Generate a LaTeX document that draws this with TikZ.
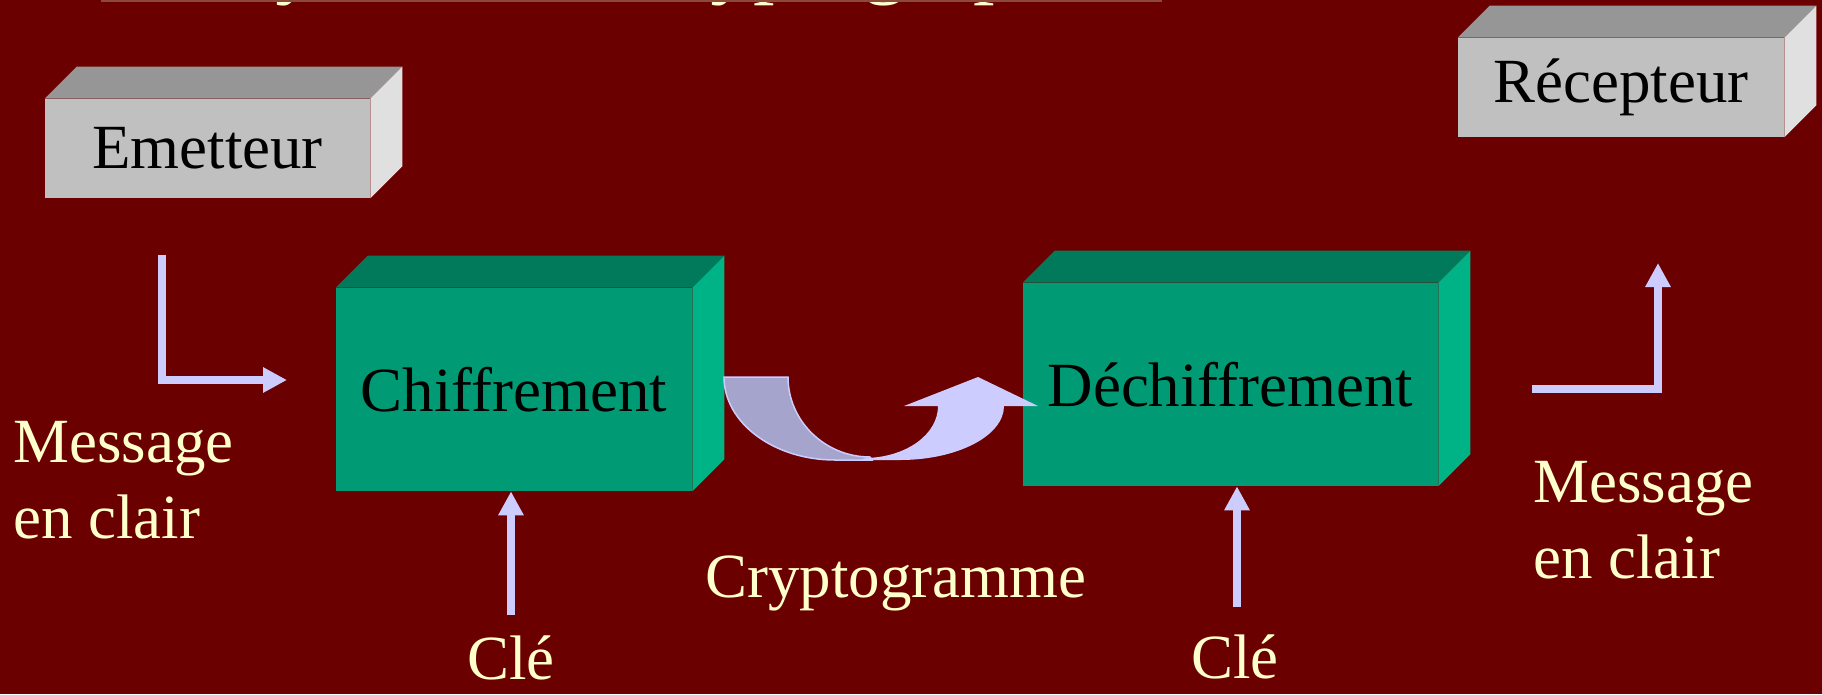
\documentclass[tikz,border=0pt]{standalone}
\usepackage{fontspec}
\setmainfont{Liberation Serif}
\usetikzlibrary{arrows.meta}

\definecolor{slidebg}{HTML}{6B0000}
\definecolor{greyfront}{HTML}{C0C0C0}
\definecolor{greytop}{HTML}{969696}
\definecolor{greyside}{HTML}{E0E0E0}
\definecolor{greenfront}{HTML}{009B74}
\definecolor{greentop}{HTML}{007A5A}
\definecolor{greenside}{HTML}{00B386}
\definecolor{lilac}{HTML}{CCCCFF}
\definecolor{lilacdark}{HTML}{A4A4CC}
\definecolor{paleyellow}{HTML}{FFFFCC}
\definecolor{rule}{HTML}{8B4A3C}

\tikzset{
  face/.style={inner sep=0pt, text=black, font=\fontsize{35.8}{42.7}\selectfont},
  greyface/.style={face, fill=greyfront, minimum width=6.5cm, minimum height=1.98cm},
  greenface/.style={face, fill=greenfront, minimum height=4.06cm},
  lab/.style={inner sep=0pt, text=paleyellow, font=\fontsize{35.8}{42.7}\selectfont},
  flow/.style={draw=lilac, line width=0.16cm, -{Triangle[length=0.48cm,width=0.48cm]}}
}

% top and side of a box, drawn behind its front face
\newcommand\drawfaces[3]{%
  \fill[#2] (#1.north west) -- ++(32,-32) -- ([shift={(32,-32)}]#1.north east) -- (#1.north east) -- cycle;
  \fill[#3] (#1.north east) -- ++(32,-32) -- ([shift={(32,-32)}]#1.south east) -- (#1.south east) -- cycle;
}

\begin{document}
\begin{tikzpicture}[x={(0.02cm,0)}, y={(0,-0.02cm)}]
    \clip (0,0) rectangle (1822,694);
    \fill[slidebg] (0,0) rectangle (1822,694);

    % title, cut by the top edge
    \node[lab, anchor=base west, font=\fontsize{49}{58}\selectfont] (titre) at (227,-13) {Système de cryptographie};
    \draw[rule, line width=0.03cm] (101,1) -- (1162,1);

    \node[greyface] (emet) at (207.5,148.5) {Emetteur};
    \node[greyface, minimum width=6.52cm] (recep) at (1621,87.5) {Récepteur};
    \node[greenface, minimum width=7.12cm] (chif) at (514,389.5) {Chiffrement};
    \node[greenface, minimum width=8.3cm] (dech) at (1230.5,384.5) {Déchiffrement};
    \drawfaces{emet}{greytop}{greyside}
    \drawfaces{recep}{greytop}{greyside}
    \drawfaces{chif}{greentop}{greenside}
    \drawfaces{dech}{greentop}{greenside}

    \node[lab, anchor=base west, align=left] (msg1) at (13,538) {Message\\en clair};
    \node[lab, anchor=base west, align=left] (msg2) at (1533,578) {Message\\en clair};
    \node[lab, anchor=base] (cle1) at (511,679) {Clé};
    \node[lab, anchor=base] (cle2) at (1235,678) {Clé};
    \node[lab, anchor=base] (crypto) at (896,597) {Cryptogramme};

    \coordinate (in1) at (162,255);
    \coordinate (in2) at (287,380);
    \coordinate (out1) at (1532,389);
    \coordinate (out2) at (1658,263);
    \coordinate (k1) at (511,615);
    \coordinate (k2) at (1237,607);
    \draw[flow] (in1) |- (in2);
    \draw[flow] (out1) -| (out2);
    \draw[flow] (k1) -- (k1 |- chif.south);
    \draw[flow] (k2) -- (k2 |- dech.south);

    % curved ribbon arrow
    \filldraw[fill=lilacdark, draw=lilac, line width=0.03cm] (724,377) -- (788,377)
      .. controls (788,421) and (825,457) .. (870,457) -- (872,460) -- (835,460)
      .. controls (774,460) and (724,423) .. (724,377) -- cycle;
    \fill[lilac] (860,460) -- (900,460) .. controls (957,460) and (1004,436) .. (1004,406)
      -- (1038,406) -- (978,377) -- (904,406) -- (938,406)
      .. controls (938,434) and (907,457) .. (866,458) -- cycle;
\end{tikzpicture}
\end{document}
